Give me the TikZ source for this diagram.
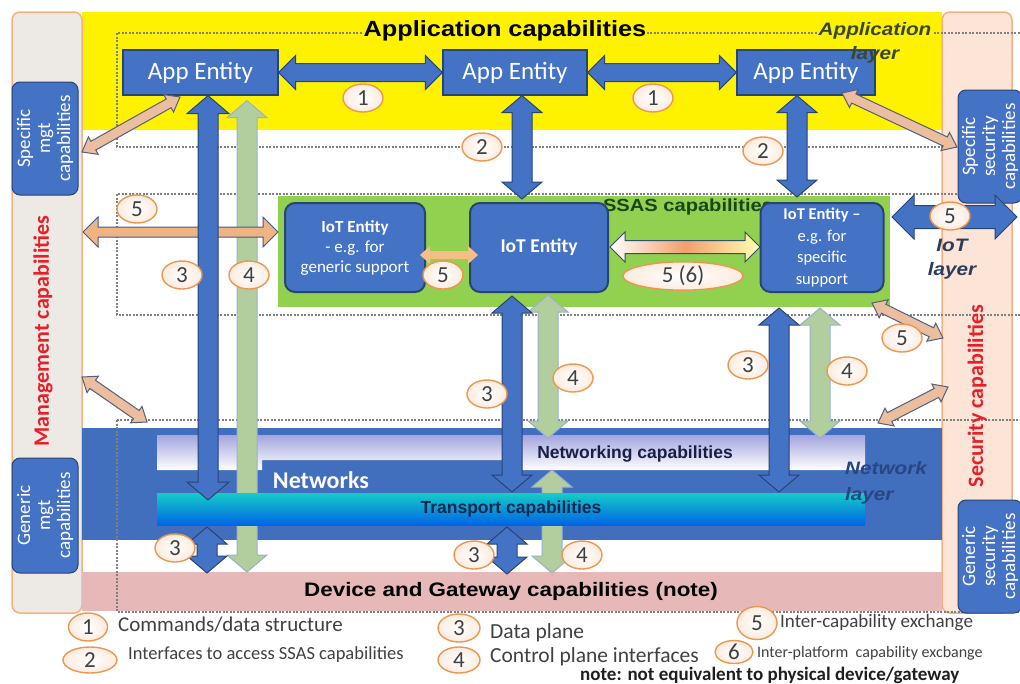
\documentclass[tikz,border=0pt]{standalone}
\usepackage{fontspec}
\setmainfont{Carlito}
\newfontfamily\headfont{Liberation Sans}[FakeStretch=1.15]
\newfontfamily\plainhead{Liberation Sans}
\usetikzlibrary{calc,shapes.geometric}

\definecolor{appblue}{RGB}{68,114,196}
\definecolor{boxedge}{RGB}{40,68,115}
\definecolor{lblorange}{RGB}{237,150,80}
\definecolor{colorange}{RGB}{244,177,131}
\definecolor{mgtbg}{RGB}{237,233,228}
\definecolor{secbg}{RGB}{252,229,214}
\definecolor{ssasgreen}{RGB}{146,208,80}
\definecolor{netblue}{RGB}{66,110,190}
\definecolor{netlav}{RGB}{163,165,222}
\definecolor{trcyan}{RGB}{20,205,200}
\definecolor{trblue}{RGB}{0,100,230}
\definecolor{devpink}{RGB}{230,184,183}
\definecolor{ctlgreen}{RGB}{178,206,158}
\definecolor{ctledge}{RGB}{150,178,205}
\definecolor{xchtan}{RGB}{236,190,160}
\definecolor{xchedge}{RGB}{85,95,120}
\definecolor{legendgray}{RGB}{64,64,64}
\definecolor{capred}{RGB}{232,30,40}

\newcommand{\fsz}[2]{\fontsize{#1}{#2}\selectfont}
% double block arrow: style, from, to, shaft half width, head half width, head length
\newcommand{\dblarrow}[6]{%
  \coordinate (ha) at ($(#2)!#6!(#3)$);
  \coordinate (hb) at ($(#3)!#6!(#2)$);
  \path[#1] (#2) -- ($(ha)!#5!90:(#3)$) -- ($(ha)!#4!90:(#3)$)
    -- ($(hb)!#4!-90:(#2)$) -- ($(hb)!#5!-90:(#2)$) -- (#3)
    -- ($(hb)!#5!90:(#2)$) -- ($(hb)!#4!90:(#2)$)
    -- ($(ha)!#4!-90:(#3)$) -- ($(ha)!#5!-90:(#3)$) -- cycle;}

\tikzset{
  appbox/.style={draw=boxedge, line width=1.2pt, fill=appblue, text=white, font=\fsz{25}{26}, inner sep=0pt},
  iotbox/.style={draw=boxedge, line width=2pt, fill=appblue, rounded corners=10pt, text=white, align=center, inner sep=0pt},
  sidebox/.style={draw=boxedge, line width=1pt, fill=appblue, rounded corners=8pt, text=white, align=center, rotate=90, inner sep=0pt, font=\fsz{19}{20}},
  colbox/.style={draw=colorange, line width=1.5pt, rounded corners=8pt, minimum width=70pt, minimum height=601pt, inner sep=0pt},
  numlbl/.style={ellipse, draw=lblorange, line width=1.4pt, inner color=white, outer color=lblorange!18, minimum width=40pt, minimum height=28pt, inner sep=0pt, text=legendgray, font=\fsz{23}{23}},
  dataflow/.style={fill=appblue, draw=boxedge, line width=1pt},
  ctlflow/.style={fill=ctlgreen, draw=ctledge, line width=1pt},
  xchflow/.style={fill=xchtan, draw=xchedge, line width=1pt},
  layerdash/.style={draw=gray, line width=1.2pt, dash pattern=on 2pt off 1.5pt},
  legendtxt/.style={anchor=west, inner sep=0pt, text=legendgray},
}

\begin{document}
\begin{tikzpicture}[x=1pt,y=-1pt]
\useasboundingbox (0,0) rectangle (1020,683);

% layer backgrounds
\fill[yellow] (82,12) rectangle (942,130);
\node[colbox, fill=mgtbg] (mgtcol) at (47,312.5) {};
\node[colbox, fill=secbg] (seccol) at (977,312.5) {};
\fill[ssasgreen] (278,196) rectangle (890,307);
\fill[netblue] (82,428) rectangle (942,540);
\fill[devpink] (82,572) rectangle (942,611);
\path[top color=netlav, bottom color=white] (157,435) -- (865,435) -- (865,470) -- (522,470)
  -- (522,460) -- (262,460) -- (262,470) -- (157,470) -- cycle;

\draw[layerdash] (117,33) rectangle (1030,147);
\draw[layerdash] (117,194) rectangle (1030,315);
\draw[layerdash] (117,420) rectangle (1030,612);

% titles
\node[fill=yellow, inner sep=1pt, font=\headfont\bfseries\fsz{22}{22}] (apptitle) at (505,31) {Application capabilities};
\node[text={rgb,255:red,25;green,70;blue,25}, font=\headfont\bfseries\fsz{17.5}{18}] (ssastitle) at (688,207) {SSAS capabilities};
\node[text={rgb,255:red,25;green,30;blue,70}, font=\plainhead\bfseries\fsz{17.5}{18}] (netcap) at (635,454) {Networking capabilities};
\node[text=white, font=\bfseries\fsz{24}{24}] (nets) at (321,480) {Networks};
\node[font=\headfont\bfseries\fsz{19.5}{20}] (dev) at (511,591) {Device and Gateway capabilities (note)};
\node[rotate=90, text=capred, font=\bfseries\fsz{22}{22}] (mgttitle) at (43,331) {Management capabilities};
\node[rotate=90, text=capred, font=\bfseries\fsz{22}{22}] (sectitle) at (977,396) {Security capabilities};

% entities
\node[appbox, minimum width=155pt, minimum height=45pt] (ae1) at (200.5,72.5) {App Entity};
\node[appbox, minimum width=144pt, minimum height=45pt] (ae2) at (515,72.5) {App Entity};
\node[appbox, minimum width=138pt, minimum height=45pt] (ae3) at (806,72.5) {App Entity};
\node[iotbox, minimum width=140pt, minimum height=89pt, font=\fsz{17}{20}] (iotg) at (355,247.5) {\textbf{IoT Entity}\\- e.g. for\\generic support};
\node[iotbox, minimum width=138pt, minimum height=89pt, font=\bfseries\fsz{19.5}{20}] (iotc) at (539,247.5) {IoT Entity};
\node[iotbox, minimum width=123pt, minimum height=89pt, font=\fsz{16.5}{21.5}] (iots) at (822,247.5) {\textbf{IoT Entity –}\\e.g. for\\specific\\support};
\node[sidebox, minimum width=113pt, minimum height=66pt] (smgt) at (45,138.5) {Specific\\mgt\\capabilities};
\node[sidebox, minimum width=115pt, minimum height=66pt] (gmgt) at (45,515.5) {Generic\\mgt\\capabilities};
\node[sidebox, minimum width=113pt, minimum height=64pt] (ssec) at (990,146.5) {Specific\\security\\capabilities};
\node[sidebox, minimum width=113pt, minimum height=64pt] (gsec) at (990,556.5) {Generic\\security\\capabilities};

% arrow ends
\coordinate (s2top) at ([xshift=7pt]ae2.south);
\coordinate (s2bot) at ([xshift=-17pt,yshift=3pt]iotc.north);
\coordinate (s3top) at ([xshift=-9pt]ae3.south);
\coordinate (s3bot) at ([xshift=-25pt,yshift=5pt]iots.north);
\coordinate (d1top) at ([xshift=7.5pt]ae1.south);
\coordinate (d1bot) at (208,500);
\coordinate (d1tr) at (207,527);
\coordinate (d1dev) at (207,573);
\coordinate (d2top) at ([xshift=-27pt,yshift=-3pt]iotc.south);
\coordinate (d2bot) at (512,492);
\coordinate (d2tr) at (507,527);
\coordinate (d2dev) at (507,574);
\coordinate (d3top) at (779,308);
\coordinate (d3bot) at (779,492);
\coordinate (c1top) at ([xshift=46.5pt,yshift=-5pt]ae1.south);
\coordinate (c1dev) at (247,572);
\coordinate (c2top) at (548,295);
\coordinate (c2bot) at (548,438);
\coordinate (c2net) at (552,470);
\coordinate (c2dev) at (552,573);
\coordinate (c3top) at (820,308);
\coordinate (c3bot) at (820,438);
\coordinate (x1a) at (180,97);
\coordinate (x1b) at (82,152);
\coordinate (x2a) at (842,93);
\coordinate (x2b) at (957,147);
\coordinate (x3a) at (83,232);
\coordinate (x3b) at (278,232);
\coordinate (x4a) at (420,255);
\coordinate (x4b) at (478,255);
\coordinate (x5a) at (892,217);
\coordinate (x5b) at (1017,217);
\coordinate (x6a) at (610,247);
\coordinate (x6b) at (760,247);
\coordinate (x7a) at (872,303);
\coordinate (x7b) at (943,338);
\coordinate (x8a) at (82,377);
\coordinate (x8b) at (147,422);
\coordinate (x9a) at (948,387);
\coordinate (x9b) at (878,423);

% control plane
\dblarrow{ctlflow}{c1top}{c1dev}{10pt}{20pt}{17pt}
\dblarrow{ctlflow}{c2top}{c2bot}{10pt}{20pt}{17pt}
\dblarrow{ctlflow}{c2net}{c2dev}{10pt}{20pt}{17pt}
\dblarrow{ctlflow}{c3top}{c3bot}{10pt}{20pt}{17pt}
\node[top color=trcyan, bottom color=trblue, minimum width=708pt, minimum height=32pt, inner sep=0pt,
  text={rgb,255:red,15;green,40;blue,80}, font=\plainhead\bfseries\fsz{17.5}{18}] (trans) at (511,509) {Transport capabilities};

% exchanges
\dblarrow{xchflow}{x1a}{x1b}{5pt}{10pt}{13pt}
\dblarrow{xchflow}{x2a}{x2b}{5pt}{10pt}{13pt}
\dblarrow{fill={rgb,255:red,240;green,180;blue,130}, draw={rgb,255:red,60;green,90;blue,150}, line width=1pt}{x3a}{x3b}{5pt}{15pt}{15pt}
\dblarrow{fill={rgb,255:red,245;green,190;blue,130}}{x4a}{x4b}{4pt}{9pt}{10pt}
\dblarrow{left color=white, right color=white!70!yellow, middle color={rgb,255:red,240;green,160;blue,110}, draw={rgb,255:red,50;green,80;blue,110}, line width=1pt}{x6a}{x6b}{6.5pt}{15pt}{15pt}
\dblarrow{xchflow}{x7a}{x7b}{5pt}{10pt}{13pt}
\dblarrow{xchflow}{x8a}{x8b}{5pt}{10pt}{13pt}
\dblarrow{xchflow}{x9a}{x9b}{5pt}{10pt}{13pt}

% data plane
\dblarrow{dataflow}{ae1.east}{ae2.west}{9pt}{17pt}{17pt}
\dblarrow{dataflow}{ae2.east}{ae3.west}{9pt}{17pt}{17pt}
\dblarrow{dataflow}{s2top}{s2bot}{10pt}{20pt}{17pt}
\dblarrow{dataflow}{s3top}{s3bot}{10pt}{20pt}{17pt}
\dblarrow{dataflow}{d1top}{d1bot}{10pt}{21pt}{18pt}
\dblarrow{dataflow}{d1tr}{d1dev}{10pt}{20pt}{17pt}
\dblarrow{dataflow}{d2top}{d2bot}{10pt}{20pt}{17pt}
\dblarrow{dataflow}{d2tr}{d2dev}{10pt}{20pt}{17pt}
\dblarrow{dataflow}{d3top}{d3bot}{10pt}{20pt}{17pt}
\dblarrow{dataflow}{x5a}{x5b}{11.5pt}{22pt}{22pt}

% layer names
\node[fill=yellow, inner sep=1pt, text={rgb,255:red,55;green,70;blue,55}, font=\headfont\bfseries\itshape\fsz{18}{18}] (applyr) at (875,31) {Application};
\node[text={rgb,255:red,55;green,70;blue,55}, font=\headfont\bfseries\itshape\fsz{18}{18}] (applyr2) at (875,55) {layer};
\node[align=center, text={rgb,255:red,45;green,60;blue,90}, font=\headfont\bfseries\itshape\fsz{18}{24}] (iotlyr) at (952,259) {IoT\\layer};
\node[align=left, anchor=west, inner sep=0pt, text={rgb,255:red,40;green,70;blue,130}, font=\headfont\bfseries\itshape\fsz{18}{26}] (netlyr) at (845,483) {Network\\layer};

% labels
\node[numlbl] (l1a) at (363,98) {1};
\node[numlbl] (l1b) at (653,98) {1};
\node[numlbl] (l2a) at (482,147) {2};
\node[numlbl] (l2b) at (763,151) {2};
\node[numlbl] (l5a) at (137,209) {5};
\node[numlbl] (l3a) at (182,275) {3};
\node[numlbl] (l4a) at (249,275) {4};
\node[numlbl] (l5b) at (443,275) {5};
\node[numlbl, minimum width=120pt, minimum height=28pt] (l56) at (683,276) {5 (6)};
\node[numlbl] (l3b) at (487,394) {3};
\node[numlbl] (l4b) at (573,378) {4};
\node[numlbl] (l5c) at (950,216) {5};
\node[numlbl] (l5d) at (902,338) {5};
\node[numlbl] (l3c) at (748,365) {3};
\node[numlbl] (l4c) at (847,371) {4};
\node[numlbl] (l3d) at (175,548) {3};
\node[numlbl] (l3e) at (474,555) {3};
\node[numlbl] (l4d) at (582,555) {4};

% legend
\node[numlbl, minimum width=39pt] (k1) at (88,627) {1};
\node[numlbl, minimum width=54pt, minimum height=26pt] (k2) at (90,660) {2};
\node[numlbl, minimum width=42pt] (k3) at (459,628) {3};
\node[numlbl, minimum width=42pt, minimum height=26pt] (k4) at (459,660) {4};
\node[numlbl, minimum height=33pt] (k5) at (757,623) {5};
\node[numlbl, minimum width=38pt, minimum height=23pt] (k6) at (734,652) {6};
\node[legendtxt, font=\fsz{21}{21}] (t1) at (118,625) {Commands/data structure};
\node[legendtxt, font=\fsz{18.5}{19}] (t2) at (128,655) {Interfaces to access SSAS capabilities};
\node[legendtxt, font=\fsz{21.5}{22}] (t3) at (490,633) {Data plane};
\node[legendtxt, font=\fsz{21.5}{22}] (t4) at (490,657) {Control plane interfaces};
\node[legendtxt, font=\fsz{19}{19}] (t5) at (780,623) {Inter-capability exchange};
\node[legendtxt, font=\fsz{16}{16}] (t6) at (757,653) {Inter-platform \ capability excbange};
\node[legendtxt, text={rgb,255:red,30;green,30;blue,30}, font=\bfseries\fsz{19}{19}] (tnote) at (580,675) {note: not equivalent to physical device/gateway};
\end{tikzpicture}
\end{document}
